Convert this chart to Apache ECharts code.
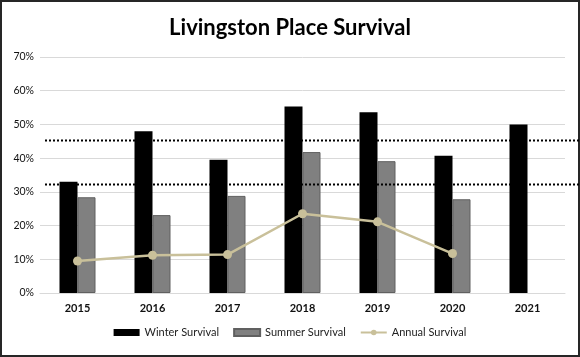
<!DOCTYPE html>
<html>
<head>
<meta charset="utf-8">
<script src="https://cdn.jsdelivr.net/npm/echarts@6/dist/echarts.min.js"></script>
<style>
html,body{margin:0;padding:0;background:#fff;}
#frame{width:580px;height:357px;box-sizing:border-box;border:2px solid #262626;position:relative;}
#chart{position:absolute;left:-2px;top:-2px;width:580px;height:357px;}
</style>
</head>
<body>
<div id="frame"><div id="chart"></div></div>
<script>
var categories = ['2015','2016','2017','2018','2019','2020','2021'];
var winterSurvival = [33.0, 48.0, 39.5, 55.3, 53.6, 40.7, 50.0];
var summerSurvival = [28.4, 23.1, 28.8, 41.8, 39.1, 27.8, null];
var annualSurvival = [9.5, 11.2, 11.4, 23.5, 21.1, 11.7, null];
var thresholds = [45.4, 32.3];
var yTicks = [0, 10, 20, 30, 40, 50, 60, 70];

var chart = echarts.init(document.getElementById('chart'), null, {renderer: 'canvas'});
var FONT = 'Lato, "Open Sans", sans-serif';

chart.setOption({
  animation: false,
  backgroundColor: 'transparent',
  title: {
    text: 'Livingston Place Survival',
    left: 'center',
    top: 12,
    textStyle: {fontFamily: FONT, fontSize: 22, fontWeight: 'bold', color: '#000'}
  },
  legend: {
    bottom: 14,
    left: 'center',
    itemGap: 14,
    itemWidth: 26,
    itemHeight: 7,
    textStyle: {fontFamily: FONT, fontSize: 11, color: '#222'},
    data: [
      {name: 'Winter Survival', icon: 'rect'},
      {name: 'Summer Survival', icon: 'rect'},
      {name: 'Annual Survival'}
    ]
  },
  grid: {left: 40, right: 15, top: 57, bottom: 64},
  xAxis: {
    type: 'category',
    data: categories,
    axisLine: {show: true, lineStyle: {color: '#d9d9d9', width: 1}},
    axisTick: {show: false},
    axisLabel: {fontFamily: FONT, fontSize: 11, fontWeight: 'bold', color: '#111', margin: 10}
  },
  yAxis: {
    type: 'value',
    min: yTicks[0],
    max: yTicks[yTicks.length - 1],
    interval: 10,
    axisLine: {show: false},
    axisTick: {show: false},
    axisLabel: {fontFamily: FONT, fontSize: 10.5, color: '#111', margin: 6, formatter: '{value}%'},
    splitLine: {lineStyle: {color: '#d9d9d9', width: 1}}
  },
  series: [
    {
      name: 'Winter Survival',
      type: 'bar',
      data: winterSurvival,
      barWidth: 18,
      barGap: '0%',
      itemStyle: {color: '#000000'}
    },
    {
      name: 'Summer Survival',
      type: 'bar',
      data: summerSurvival,
      barWidth: 18,
      barGap: '0%',
      itemStyle: {color: '#808080', borderColor: '#606060', borderWidth: 1}
    },
    {
      name: 'Annual Survival',
      type: 'line',
      data: annualSurvival,
      symbol: 'circle',
      symbolSize: 9,
      z: 5,
      lineStyle: {color: '#c9c09a', width: 2.5},
      itemStyle: {color: '#c9c09a'}
    }
  ]
});

// Dotted reference lines, positioned via the chart's own y scale
var lines = thresholds.map(function (v) {
  var y = Math.round(chart.convertToPixel({yAxisIndex: 0}, v)) + 0.5;
  return {
    type: 'line',
    z: 100,
    shape: {x1: 45, y1: y, x2: 580, y2: y},
    style: {stroke: '#000', lineWidth: 2, lineDash: [2, 2]}
  };
});
chart.setOption({graphic: lines});
</script>
</body>
</html>
